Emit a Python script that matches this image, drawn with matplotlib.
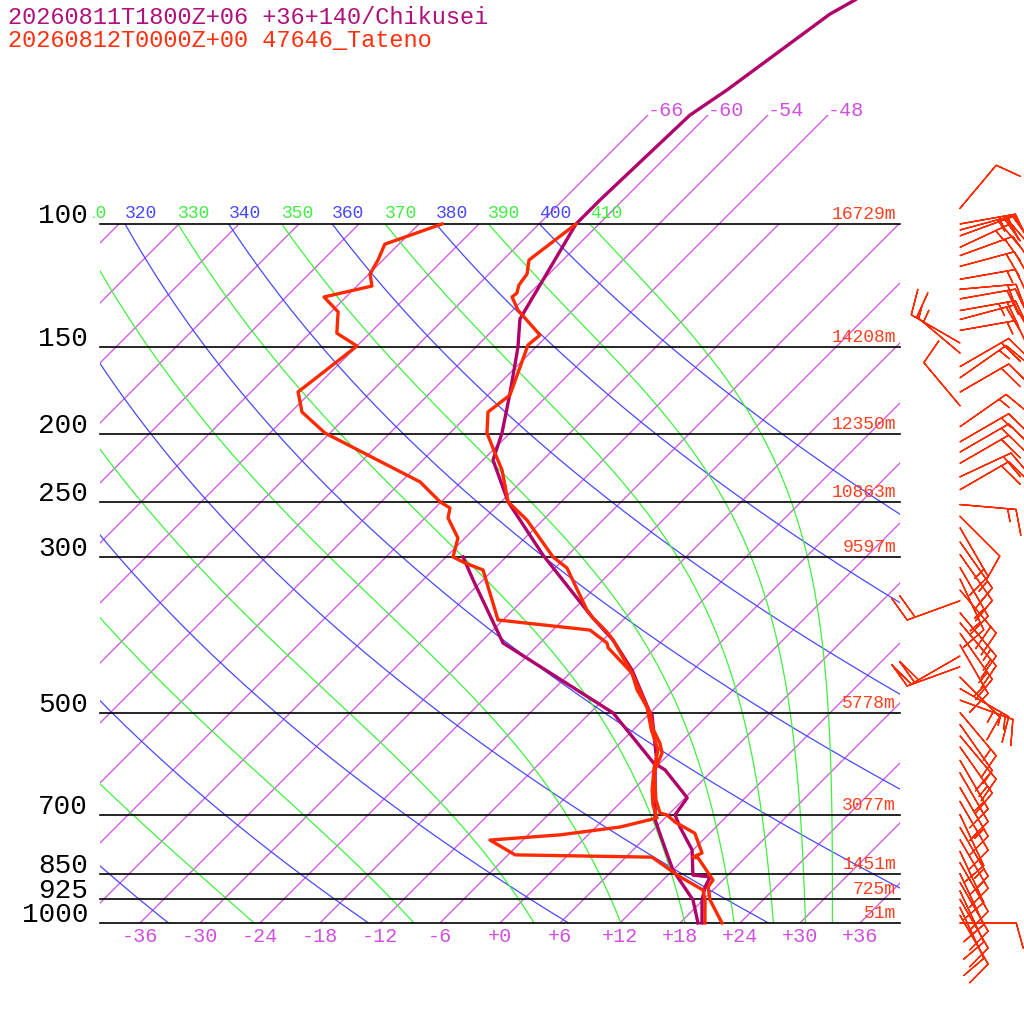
import numpy as np
import matplotlib
matplotlib.use("Agg")
import matplotlib.pyplot as plt
from matplotlib.patches import Rectangle

# ---------------- data ----------------
title1 = "20260811T1800Z+06 +36+140/Chikusei"
title2 = "20260812T0000Z+00 47646_Tateno"

plevels = [100, 150, 200, 250, 300, 500, 700, 850, 925, 1000]
heights = ["16729m", "14208m", "12350m", "10863m", "9597m", "5778m", "3077m", "1451m", "725m", "51m"]

obs_t_p = [1000, 927, 888, 868, 807, 805, 794, 744, 717, 700.6, 696, 667, 608, 571, 553, 529, 500.6, 491, 464, 439,
           393.7, 383.5, 366.1, 356.7, 310.6, 299.5, 265.2, 249.8, 224.9, 212.7, 199.1, 185.8, 175.7, 149, 144.2,
           132.8, 127.2, 125.6, 122.3, 117.9, 112.6, 100]
obs_t_t = [22.2, 18.7, 17.2, 17.0, 13.3, 12.7, 13.2, 10.5, 7.4, 5.9, 5.0, 3.3, 0.3, -0.8, -2.0, -4.0, -6.0, -6.9, -9.6, -11.8,
           -17.0, -18.4, -21.2, -22.6, -28.8, -31.3, -37.6, -41.3, -45.1, -47.5, -50.3, -52.3, -51.8, -55.0, -54.8,
           -59.5, -61.4, -61.3, -61.9, -62.2, -63.4, -62.3]

obs_td_p = [1000, 927, 897, 859, 805, 799, 761, 748, 729, 707.6, 678, 645, 600, 565.6, 529, 491, 439, 404, 397.6, 381,
            368.6, 312.6, 305.5, 299.5, 281.4, 263.4, 254.9, 249.8, 233.9, 199.1, 185.8, 173.9, 149.5, 143.3, 133.6,
            127.2, 122.7, 117.9, 112.6, 106.9, 100]
obs_td_t = [20.5, 18.2, 17.0, 13.4, 8.6, -5.3, -9.3, -2.8, 2.4, 5.2, 3.5, 1.9, -0.1, -1.5, -4.2, -6.9, -11.8, -16.7, -17.3, -20.3,
            -30.5, -37.0, -39.5, -41.3, -42.7, -45.7, -46.5, -48.1, -52.1, -66.5, -70.9, -73.3, -72.0, -75.3, -77.3,
            -80.2, -76.5, -77.9, -78.5, -79.4, -75.7]

mod_t_p = [1000, 927, 888, 859, 854, 786, 729, 700.6, 662, 604, 594, 504, 500.6, 434.6, 393.7, 365, 297.6, 249.8,
           217.6, 199.1, 174.5, 150, 136.8, 100, 92.5, 69.9, 64.3, 50.1, 47.8]
mod_t_t = [20.2, 17.9, 16.9, 16.4, 14.5, 11.9, 8.4, 6.7, 6.2, 1.2, -0.1, -5.6, -6.0, -12.1, -17.0, -21.4, -32.5, -41.3,
           -47.0, -48.8, -52.0, -55.8, -58.4, -62.3, -62.3, -61.8, -60.6, -57.9, -56.8]

mod_td_p = [1000, 927, 840, 768, 712, 594, 500.6, 397.6, 323, 299.5]
mod_td_t = [19.8, 17.0, 12.0, 8.3, 5.2, -0.3, -9.7, -27.7, -37.0, -40.3]

# winds: pressure (hPa), direction (deg, from), speed (kt)
wind_p = [95, 100, 102, 104, 108, 111, 115, 120, 124, 128, 133, 137, 142, 148, 153, 160, 166, 174, 182, 195,
          205, 212, 220, 230, 240, 252, 262, 272, 285, 297, 310, 322, 334, 346, 360, 372, 385, 400, 415, 430,
          445, 462, 480, 500, 520, 540, 560, 585, 610, 640, 670, 700, 730, 760, 790, 820, 850, 875, 900, 925,
          950, 975, 1000]
wind_dir = [40, 80, 75, 70, 65, 70, 75, 80, 85, 80, 80, 75, 80, 300, 310, 60, 55, 60, 320, 55,
            60, 60, 60, 65, 60, 95, 135, 150, 145, 145, 150, 155, 140, 250, 140, 140, 145, 150, 240, 250,
            135, 120, 110, 140, 145, 140, 145, 150, 150, 150, 150, 155, 150, 150, 155, 150, 155, 150, 155, 150,
            155, 150, 90]
wind_spd = [10, 25, 25, 20, 25, 20, 20, 15, 20, 20, 25, 20, 15, 15, 15, 20, 15, 20, 10, 15,
            15, 15, 20, 20, 20, 15, 10, 15, 15, 15, 15, 15, 20, 20, 15, 15, 15, 15, 20, 20,
            15, 15, 15, 15, 10, 15, 15, 15, 10, 15, 10, 10, 15, 15, 10, 10, 10, 10, 10, 10,
            10, 10, 10]

isotherms = np.arange(-120, 44, 6)
top_iso = [-66, -60, -54, -48]
bottom_ticks = np.arange(-36, 37, 6)
dry_thetas = np.arange(200, 401, 20)
moist_thetaes = np.arange(230, 411, 20)

# ---------------- geometry ----------------
P0, PT = 1000.0, 100.0
Y0 = 1024 - 923   # 1000 hPa in upward figure coords
SC = 303.6

def Yp(p):
    return Y0 + SC * np.log(P0 / np.asarray(p, float))

def Xtp(t, p):
    return 500 + 10 * np.asarray(t, float) + SC * np.log(P0 / np.asarray(p, float))

fig = plt.figure(figsize=(10.24, 10.24), dpi=100)
ax = fig.add_axes([0, 0, 1, 1])
ax.set_xlim(0, 1024)
ax.set_ylim(0, 1024)
ax.axis("off")

mono = "Liberation Mono"
clip_main = Rectangle((100, Y0), 800, Yp(PT) - Y0, transform=ax.transData)
clip_top = Rectangle((100, Y0), 800, 1024 - 115 - Y0, transform=ax.transData)

ISO_C = "#d050e0"
BLUE = "#4848ff"
GREEN = "#40f040"

# isotherms
pp = np.logspace(np.log10(1000), np.log10(40), 300)
for t in isotherms:
    ln, = ax.plot(Xtp(t, pp), Yp(pp), color=ISO_C, lw=0.9, zorder=1)
    ln.set_clip_path(clip_top if t in top_iso else clip_main)
for t in top_iso:
    ptop = P0 * np.exp(-(1024 - 115 - Y0) / SC)
    ax.text(Xtp(t, ptop), 1024 - 110, "%d" % t, color=ISO_C, fontsize=14.5, family=mono,
            ha="left", va="center")
for t in bottom_ticks:
    lab = "+%d" % t if t >= 0 else "%d" % t
    ax.text(Xtp(t, 1000), 1024 - 937, lab, color=ISO_C, fontsize=14.5, family=mono, ha="center", va="center")

# dry adiabats
pd = np.logspace(np.log10(1000), np.log10(100), 200)
for th in dry_thetas:
    T = th * (pd / 1000.0) ** 0.2857 - 273.15
    ln, = ax.plot(Xtp(T, pd), Yp(pd), color=BLUE, lw=0.9, zorder=1)
    ln.set_clip_path(clip_main)

# moist pseudo-adiabats via Bolton theta-e inversion
def theta_e(TK, p):
    tc = TK - 273.15
    es = 6.112 * np.exp(17.67 * tc / (tc + 243.5))
    r = 622.0 * es / (p - es)
    return TK * (1000.0 / p) ** (0.2854 * (1 - 0.28e-3 * r)) * np.exp((3.376 / TK - 0.00254) * r * (1 + 0.81e-3 * r))

def moist_T(the, p):
    lo = np.full_like(p, 150.0)
    hi = np.full_like(p, 320.0)
    for _ in range(60):
        mid = 0.5 * (lo + hi)
        f = theta_e(mid, p) - the
        hi = np.where(f > 0, mid, hi)
        lo = np.where(f > 0, lo, mid)
    return 0.5 * (lo + hi) - 273.15

for the in moist_thetaes:
    T = moist_T(the, pd)
    ln, = ax.plot(Xtp(T, pd), Yp(pd), color=GREEN, lw=0.9, zorder=1)
    ln.set_clip_path(clip_main)

# theta labels at 100 hPa
lab_clip = Rectangle((93, 0), 900, 1024, transform=ax.transData)
for th in range(310, 411, 10):
    if th % 20 == 0:
        T = th * 0.1 ** 0.2857 - 273.15
        col = BLUE
    else:
        T = moist_T(float(th), np.array([100.0]))[0]
        col = GREEN
    txt = ax.text(Xtp(T, 100), 1024 - 213, str(th), color=col, fontsize=13, family=mono,
                  ha="left", va="center", clip_on=True)
    txt.set_clip_path(lab_clip)

# pressure lines and labels
for p, h in zip(plevels, heights):
    y = Yp(p)
    ax.plot([100, 900], [y, y], color="black", lw=1.2, zorder=2)
    ax.text(88, y + 8, str(p), color="black", fontsize=20, family=mono, ha="right", va="center")
    ax.text(896, y + 1, h, color="#ff4020", fontsize=13, family=mono, ha="right", va="bottom")

# profiles
RED = "#ff2a00"
PUR = "#b0006a"
ax.plot(Xtp(mod_td_t, mod_td_p), Yp(mod_td_p), color=PUR, lw=2.4, zorder=4)
ax.plot(Xtp(mod_t_t, mod_t_p), Yp(mod_t_p), color=PUR, lw=2.4, zorder=4)
ax.plot(Xtp(obs_td_t, obs_td_p), Yp(obs_td_p), color=RED, lw=2.4, zorder=5)
ax.plot(Xtp(obs_t_t, obs_t_p), Yp(obs_t_p), color=RED, lw=2.4, zorder=5)

# wind barbs
wd = np.radians(wind_dir)
spd = np.asarray(wind_spd, float)
u = -spd * np.sin(wd)
v = -spd * np.cos(wd)
ax.barbs(np.full(len(wind_p), 960.0), Yp(wind_p), u, v, color=RED, length=9, linewidth=1.0,
         sizes=dict(emptybarb=0.0, height=0.45, spacing=0.15), zorder=5)

# titles
ax.text(8, 1024 - 17, title1, color="#b0107a", fontsize=17, family=mono, ha="left", va="center")
ax.text(8, 1024 - 41, title2, color="#ff3010", fontsize=17, family=mono, ha="left", va="center")

fig.savefig("out.png", dpi=100)
